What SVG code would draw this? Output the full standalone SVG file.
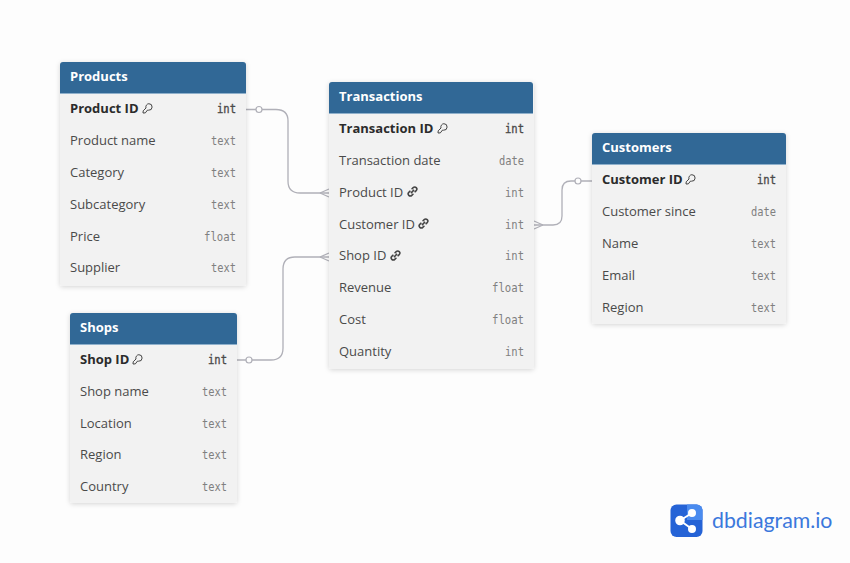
<svg xmlns="http://www.w3.org/2000/svg" width="850" height="563" viewBox="0 0 850 563">
<style>
text{font-family:"Open Sans","Noto Sans","Liberation Sans",sans-serif;font-size:13px;fill:#4a4a4a}
.title{font-weight:700;fill:#fff;font-size:13px}
.pk{font-weight:700;fill:#2b2b2b}
.ty{font-family:"DejaVu Sans Mono","Liberation Mono",monospace;font-size:12px;fill:#808080;text-anchor:end}
.tyk{font-family:"DejaVu Sans Mono","Liberation Mono",monospace;font-size:12px;fill:#4a4a4a;text-anchor:end;stroke:#4a4a4a;stroke-width:.35}
.body{fill:#f2f2f2;filter:url(#sh)}
.head{fill:#316896}
.sep{stroke:#8fb0cb;stroke-width:1}
.conn{fill:none;stroke:#b0b0b8;stroke-width:1.300}
.dot{fill:#fdfdfd;stroke:#b0b0b8;stroke-width:1.200}
.ico{fill:none;stroke:#444;stroke-width:1}
.logo{font-family:"Lato","Noto Sans",sans-serif;font-size:21.300px;fill:#3b78dc}
</style>
<defs>
<filter id="sh" x="-10%" y="-10%" width="120%" height="120%"><feDropShadow dx="0" dy="1" stdDeviation="2.500" flood-color="#000" flood-opacity=".16"/></filter>
<symbol id="key" viewBox="0 0 11 11" overflow="visible"><path class="ico" d="M6.900 .7a3.300 3.300 0 0 1 3.200 3.400 3.300 3.300 0 0 1-3.500 3.100L5.600 7 3.300 9.900 1 10l.2-2.200L4 5a3.300 3.300 0 0 1 2.900-4.300z"/></symbol>
<symbol id="link" viewBox="0 0 11 11" overflow="visible"><g class="ico"><path d="M4.600 3.200 6.200 1.600a2 2 0 0 1 3 3L7.600 6.200" stroke-width="1.500"/><path d="M6.400 7.800 4.800 9.400a2 2 0 0 1-3-3L3.400 4.800" stroke-width="1.500"/><path d="M3.900 7.100 7.100 3.900" stroke-width="1.500"/></g></symbol>
</defs>
<rect width="850" height="563" fill="#fdfdfd"/>

<g id="connectors">
<path class="conn" d="M246 109.500H276Q288 109.500 288 121V181Q288 193 300 193H329"/>
<path class="conn" d="M320 193 329 189M320 193 329 197"/>
<circle class="dot" cx="259" cy="109.500" r="3"/>
<path class="conn" d="M237 360H271Q283 360 283 348V269Q283 257 295 257H329"/>
<path class="conn" d="M320 257 329 253M320 257 329 261"/>
<circle class="dot" cx="249" cy="360" r="3"/>
<path class="conn" d="M534 225H553Q562 225 562 216V190Q562 181 571 181H592"/>
<path class="conn" d="M543 225 534 221M543 225 534 229"/>
<circle class="dot" cx="578" cy="181" r="3"/>
</g>

<g id="products">
<rect class="body" x="60" y="62" width="186" height="224" rx="3"/>
<path class="head" d="M60 93V65a3 3 0 0 1 3-3H243a3 3 0 0 1 3 3V93z"/>
<path class="sep" d="M60 93.500H246"/>
<text class="title" x="70" y="81">Products</text>
<text class="pk" x="70" y="113">Product ID</text><use href="#key" x="142" y="103" width="11" height="11"/><text class="tyk" x="236" y="113" textLength="19" lengthAdjust="spacingAndGlyphs">int</text>
<text x="70" y="145">Product name</text><text class="ty" x="236" y="145" textLength="25" lengthAdjust="spacingAndGlyphs">text</text>
<text x="70" y="177">Category</text><text class="ty" x="236" y="177" textLength="25" lengthAdjust="spacingAndGlyphs">text</text>
<text x="70" y="209">Subcategory</text><text class="ty" x="236" y="209" textLength="25" lengthAdjust="spacingAndGlyphs">text</text>
<text x="70" y="241">Price</text><text class="ty" x="236" y="241" textLength="32" lengthAdjust="spacingAndGlyphs">float</text>
<text x="70" y="272">Supplier</text><text class="ty" x="236" y="272" textLength="25" lengthAdjust="spacingAndGlyphs">text</text>
</g>

<g id="transactions">
<rect class="body" x="329" y="82" width="205" height="287" rx="3"/>
<path class="head" d="M329 113V85a3 3 0 0 1 3-3H530a3 3 0 0 1 3 3V113z"/>
<path class="sep" d="M329 113.500H533"/>
<text class="title" x="339" y="101">Transactions</text>
<text class="pk" x="339" y="133">Transaction ID</text><use href="#key" x="437" y="123" width="11" height="11"/><text class="tyk" x="524" y="133" textLength="19" lengthAdjust="spacingAndGlyphs">int</text>
<text x="339" y="165">Transaction date</text><text class="ty" x="524" y="165" textLength="25" lengthAdjust="spacingAndGlyphs">date</text>
<text x="339" y="197">Product ID</text><use href="#link" x="407" y="186" width="11" height="11"/><text class="ty" x="524" y="197" textLength="19" lengthAdjust="spacingAndGlyphs">int</text>
<text x="339" y="229">Customer ID</text><use href="#link" x="418" y="218" width="11" height="11"/><text class="ty" x="524" y="229" textLength="19" lengthAdjust="spacingAndGlyphs">int</text>
<text x="339" y="260">Shop ID</text><use href="#link" x="390" y="250" width="11" height="11"/><text class="ty" x="524" y="260" textLength="19" lengthAdjust="spacingAndGlyphs">int</text>
<text x="339" y="292">Revenue</text><text class="ty" x="524" y="292" textLength="32" lengthAdjust="spacingAndGlyphs">float</text>
<text x="339" y="324">Cost</text><text class="ty" x="524" y="324" textLength="32" lengthAdjust="spacingAndGlyphs">float</text>
<text x="339" y="356">Quantity</text><text class="ty" x="524" y="356" textLength="19" lengthAdjust="spacingAndGlyphs">int</text>
</g>

<g id="customers">
<rect class="body" x="592" y="133" width="194" height="191" rx="3"/>
<path class="head" d="M592 164V136a3 3 0 0 1 3-3H783a3 3 0 0 1 3 3V164z"/>
<path class="sep" d="M592 164.500H786"/>
<text class="title" x="602" y="152">Customers</text>
<text class="pk" x="602" y="184">Customer ID</text><use href="#key" x="685" y="174" width="11" height="11"/><text class="tyk" x="776" y="184" textLength="19" lengthAdjust="spacingAndGlyphs">int</text>
<text x="602" y="216">Customer since</text><text class="ty" x="776" y="216" textLength="25" lengthAdjust="spacingAndGlyphs">date</text>
<text x="602" y="248">Name</text><text class="ty" x="776" y="248" textLength="25" lengthAdjust="spacingAndGlyphs">text</text>
<text x="602" y="280">Email</text><text class="ty" x="776" y="280" textLength="25" lengthAdjust="spacingAndGlyphs">text</text>
<text x="602" y="312">Region</text><text class="ty" x="776" y="312" textLength="25" lengthAdjust="spacingAndGlyphs">text</text>
</g>

<g id="shops">
<rect class="body" x="70" y="313" width="167" height="190" rx="3"/>
<path class="head" d="M70 344V316a3 3 0 0 1 3-3H234a3 3 0 0 1 3 3V344z"/>
<path class="sep" d="M70 344.500H237"/>
<text class="title" x="80" y="332">Shops</text>
<text class="pk" x="80" y="364">Shop ID</text><use href="#key" x="132" y="354" width="11" height="11"/><text class="tyk" x="227" y="364" textLength="19" lengthAdjust="spacingAndGlyphs">int</text>
<text x="80" y="396">Shop name</text><text class="ty" x="227" y="396" textLength="25" lengthAdjust="spacingAndGlyphs">text</text>
<text x="80" y="428">Location</text><text class="ty" x="227" y="428" textLength="25" lengthAdjust="spacingAndGlyphs">text</text>
<text x="80" y="459">Region</text><text class="ty" x="227" y="459" textLength="25" lengthAdjust="spacingAndGlyphs">text</text>
<text x="80" y="491">Country</text><text class="ty" x="227" y="491" textLength="25" lengthAdjust="spacingAndGlyphs">text</text>
</g>

<g id="logo">
<rect x="670.500" y="504.500" width="32" height="32.500" rx="6" fill="#2563d6"/>
<path d="M687 504.500H696.500a6 6 0 0 1 6 6V520H687z" fill="#4a8bef"/>
<g stroke="#fff" stroke-width="2" fill="#fff"><path d="M680 520.500 692 513M680 520.500 692 529"/><circle cx="680" cy="520.500" r="3.800"/><circle cx="692" cy="513" r="3"/><circle cx="692" cy="529" r="3"/></g>
<text class="logo" x="712" y="528">dbdiagram.io</text>
</g>
</svg>
